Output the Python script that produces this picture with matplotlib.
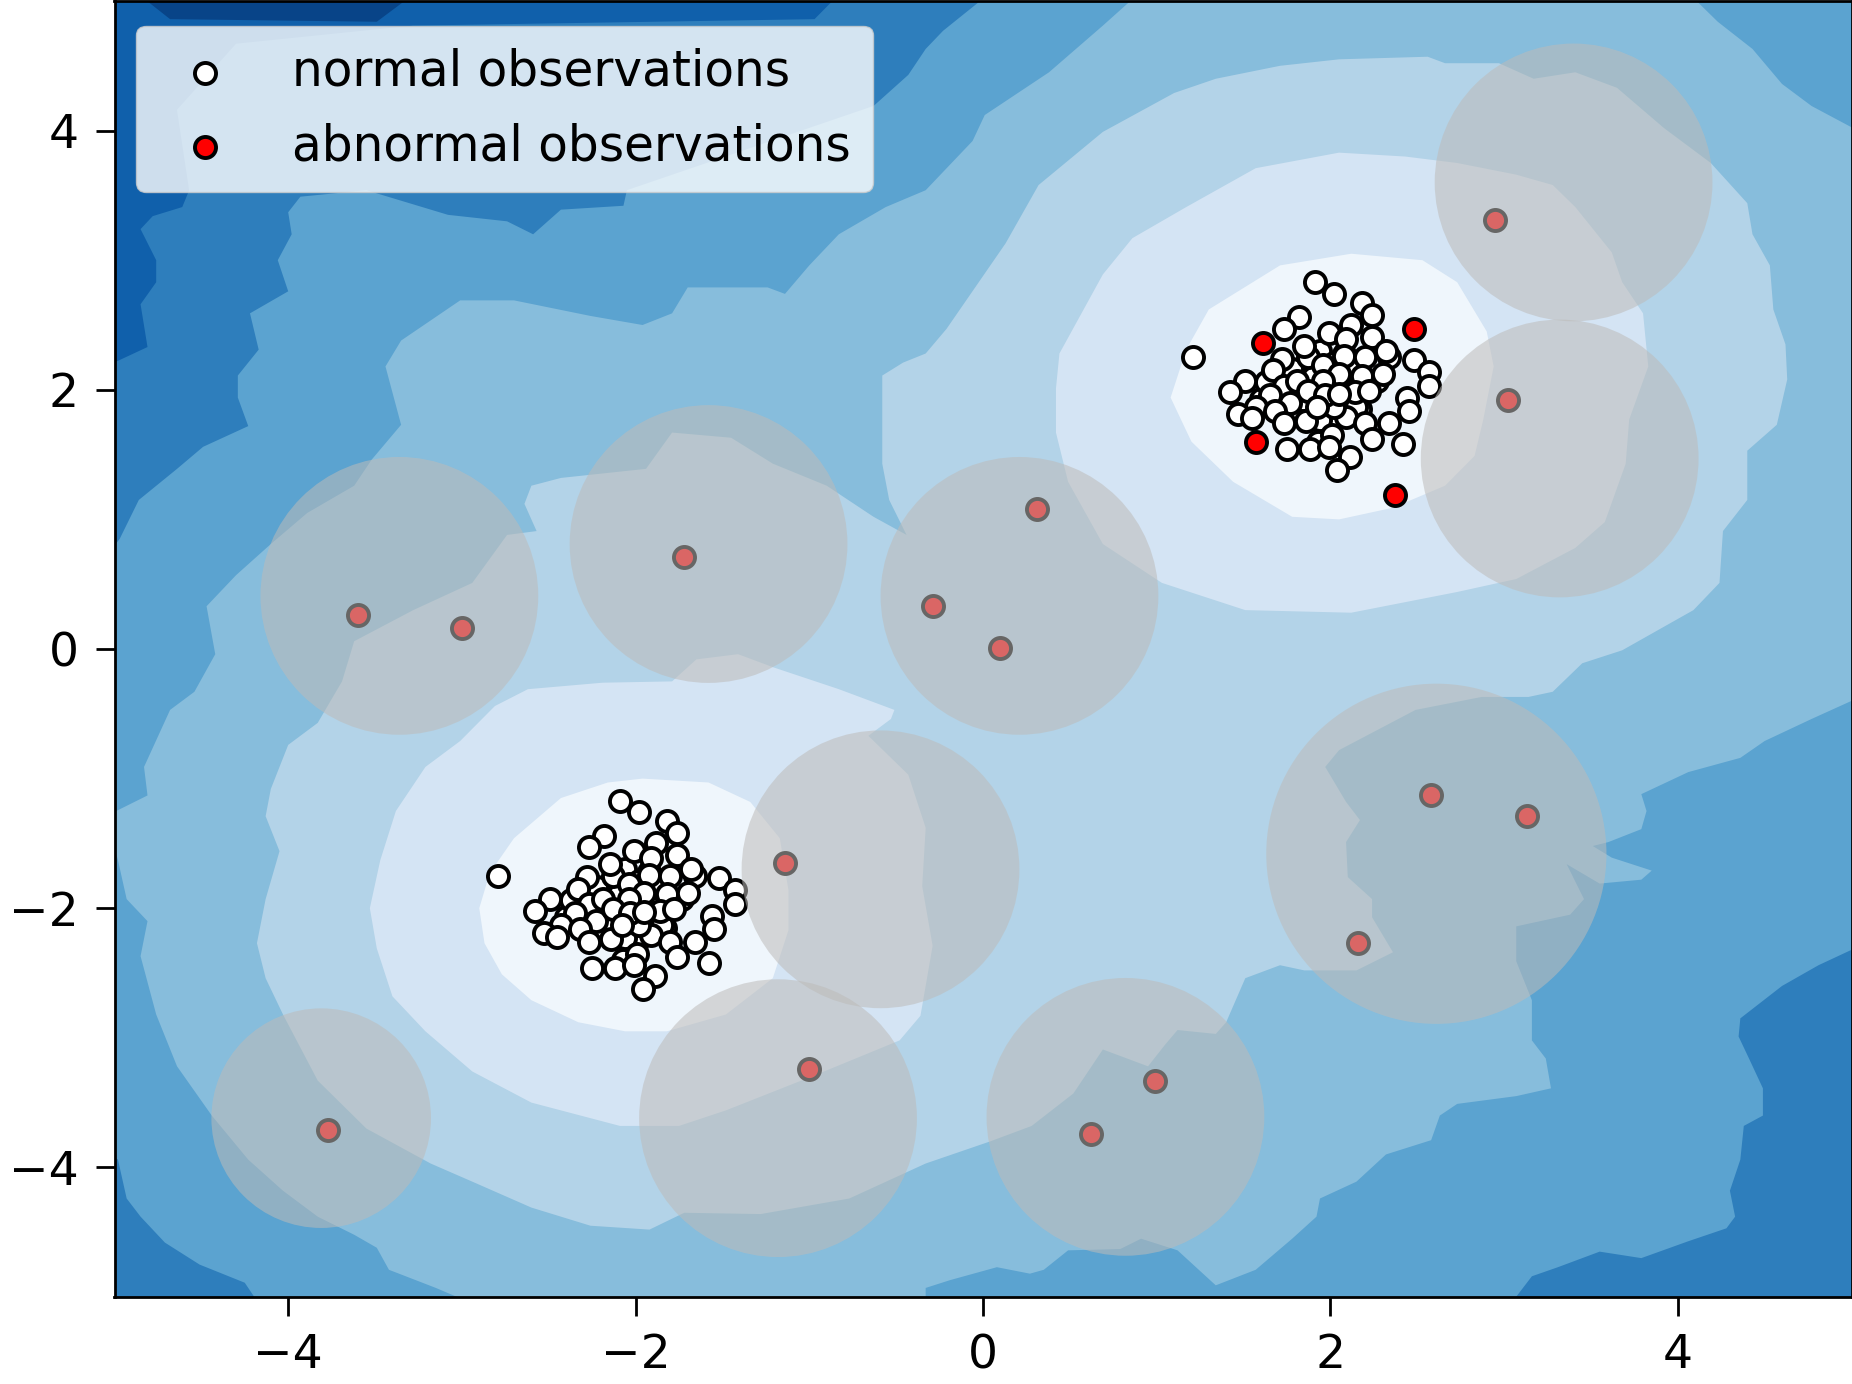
#!/usr/bin/env python3
"""Outlier scores as a stepped blue background, with grey circles round the abnormal points."""
import matplotlib
matplotlib.use("Agg")
import matplotlib.pyplot as plt

# normal observations, upper right cluster
upper_x = [1.88, 1.95, 2.03, 2.10, 1.80, 1.92, 2.00, 2.06, 1.90, 1.97, 2.13, 1.84, 1.70, 2.27, 1.60, 1.78, 2.00, 1.93, 2.17, 2.08,
           1.92, 1.84, 2.01, 2.15, 1.63, 1.94, 2.02, 2.11, 1.78, 2.15, 1.90,
           1.91, 2.02, 2.18, 2.24, 1.82, 1.73, 1.99, 2.12, 2.24, 2.09, 1.21, 1.72, 1.87, 2.08, 1.85, 2.20,
           2.34, 2.48, 2.32, 2.57, 2.57, 1.67, 1.51, 1.42, 1.73, 1.96, 2.05, 2.18, 2.30, 1.81, 1.96, 2.14,
           2.44, 2.45, 1.77, 1.65, 1.57, 1.47, 1.55, 1.68, 1.73, 1.94, 2.09, 2.20, 2.34, 2.02, 1.87, 1.97,
           2.05, 2.22, 2.01, 1.86, 1.75, 1.88, 2.24, 2.42, 2.11, 2.04, 1.99, 1.92]
upper_y = [2.00, 1.90, 1.92, 2.00, 1.98, 2.15, 2.18, 1.83, 1.82, 2.03, 1.93, 2.10, 1.93, 2.07, 1.93, 1.83, 1.72, 1.60, 1.85, 2.28,
           2.05, 1.92, 2.05, 1.87, 2.06, 2.30, 2.21, 2.19, 2.16, 2.17, 2.10,
           2.83, 2.74, 2.67, 2.58, 2.56, 2.47, 2.44, 2.50, 2.41, 2.39, 2.25, 2.24, 2.25, 2.26, 2.34, 2.25,
           2.25, 2.23, 2.30, 2.14, 2.03, 2.15, 2.07, 1.98, 2.03, 2.19, 2.12, 2.11, 2.12, 2.07, 2.07, 1.98,
           1.94, 1.84, 1.90, 1.96, 1.87, 1.81, 1.78, 1.84, 1.74, 1.77, 1.79, 1.74, 1.74, 1.87, 1.99, 1.96,
           1.97, 1.99, 1.65, 1.76, 1.54, 1.54, 1.62, 1.58, 1.48, 1.38, 1.56, 1.87]

# normal observations, lower left cluster
lower_x = [-2.12, -2.05, -1.97, -1.90, -2.20, -2.08, -2.00, -1.94, -2.10, -2.03, -1.87, -2.16, -2.30, -1.73, -2.40, -2.22, -2.00, -2.07, -1.83, -1.92,
           -2.08, -2.16, -1.99, -1.85, -2.37, -2.06, -1.98, -1.89, -2.22, -1.85, -2.10,
           -2.09, -1.98, -1.82, -1.76, -2.18, -2.27, -2.01, -1.88, -1.76, -1.91, -2.79, -2.28, -2.13, -1.92, -2.15, -1.80,
           -1.66, -1.52, -1.68, -1.43, -1.43, -2.33, -2.49, -2.58, -2.27, -2.04, -1.95, -1.82, -1.70, -2.19, -2.04, -1.86,
           -1.56, -1.55, -2.23, -2.35, -2.43, -2.53, -2.45, -2.32, -2.27, -2.06, -1.91, -1.80, -1.66, -1.98, -2.13, -2.03,
           -1.95, -1.78, -1.99, -2.14, -2.25, -2.12, -1.76, -1.58, -1.89, -1.96, -2.01, -2.08]
lower_y = [-2.00, -2.10, -2.08, -2.00, -2.02, -1.85, -1.82, -2.17, -2.18, -1.97, -2.07, -1.90, -2.07, -1.93, -2.07, -2.17, -2.28, -2.40, -2.15, -1.72,
           -1.95, -2.08, -1.95, -2.13, -1.94, -1.70, -1.79, -1.81, -1.84, -1.83, -1.90,
           -1.17, -1.26, -1.33, -1.42, -1.44, -1.53, -1.56, -1.50, -1.59, -1.61, -1.75, -1.76, -1.75, -1.74, -1.66, -1.75,
           -1.75, -1.77, -1.70, -1.86, -1.97, -1.85, -1.93, -2.02, -1.97, -1.81, -1.88, -1.89, -1.88, -1.93, -1.93, -2.02,
           -2.06, -2.16, -2.10, -2.04, -2.13, -2.19, -2.22, -2.16, -2.26, -2.23, -2.21, -2.26, -2.26, -2.13, -2.01, -2.04,
           -2.03, -2.01, -2.35, -2.24, -2.46, -2.46, -2.38, -2.42, -2.52, -2.62, -2.44, -2.13]

# abnormal observations
abnormal_x = [2.95, 2.48, 1.61, 3.02, 1.57, 2.37, 0.31, -0.29, 0.10, -1.72,
              -3.60, -3.00, -1.14, 2.58, 3.13, 2.16, -1.00, 0.99, 0.62, -3.77]
abnormal_y = [3.31, 2.47, 2.36, 1.92, 1.60, 1.19, 1.08, 0.33, 0.01, 0.71,
              0.26, 0.16, -1.65, -1.13, -1.29, -2.27, -3.24, -3.33, -3.74, -3.71]

# grey circles: centre and marker size
circle_x = [-3.36, -1.58, 0.21, -0.59, -1.18, 0.82, 2.61, -3.81, 3.40, 3.32]
circle_y = [0.41, 0.81, 0.41, -1.70, -3.62, -3.61, -1.58, -3.62, 3.60, 1.47]
circle_s = [40000, 40000, 40000, 40000, 40000, 40000, 60000, 25000, 40000, 40000]

# background bands, darkest first
band_top = [(-4.86, 5.05), (-4.68, 4.86), (-3.49, 4.84), (-3.28, 5.05)]

band_1 = [(-5.05, 2.18), (-4.81, 2.33), (-4.85, 2.66), (-4.76, 2.83), (-4.76, 3.00), (-4.85, 3.24),
          (-4.78, 3.34), (-4.61, 3.41), (-4.57, 3.54), (-4.64, 4.16), (-4.30, 4.67), (-3.28, 4.81),
          (-0.97, 4.86), (-0.83, 5.05), (5.05, 5.05), (5.05, -5.05), (-5.05, -5.05)]

band_2 = [(-5.05, 0.71), (-4.97, 0.85), (-4.86, 1.15), (-4.64, 1.39), (-4.49, 1.56), (-4.23, 1.72),
          (-4.29, 1.94), (-4.29, 2.11), (-4.17, 2.31), (-4.22, 2.59), (-4.00, 2.76), (-4.06, 3.00),
          (-3.98, 3.20), (-4.00, 3.37), (-3.93, 3.49), (-3.55, 3.54), (-3.08, 3.35), (-2.74, 3.30),
          (-2.59, 3.20), (-2.43, 3.39), (-2.07, 3.42), (-2.05, 3.54), (-0.63, 4.19), (-0.43, 4.43),
          (-0.33, 4.63), (-0.23, 4.77), (0.03, 5.05), (5.05, 5.05), (5.05, -2.29), (4.81, -2.44),
          (4.60, -2.60), (4.36, -2.85), (4.35, -2.99), (4.41, -3.16), (4.49, -3.39), (4.49, -3.60),
          (4.38, -3.68), (4.36, -3.94), (4.30, -4.18), (4.33, -4.38), (4.28, -4.47), (4.06, -4.57),
          (3.79, -4.70), (3.55, -4.65), (3.31, -4.77), (3.16, -4.84), (3.04, -5.05), (-4.17, -5.05),
          (-4.25, -4.89), (-4.51, -4.75), (-4.71, -4.58), (-4.85, -4.38), (-4.93, -4.24), (-4.98, -3.94),
          (-5.05, -3.87)]

band_3 = [(-5.05, -1.29), (-4.81, -1.13), (-4.83, -0.91), (-4.68, -0.47), (-4.54, -0.33), (-4.42, -0.04),
          (-4.47, 0.33), (-4.30, 0.57), (-4.10, 0.81), (-3.89, 1.05), (-3.62, 1.26), (-3.52, 1.46),
          (-3.35, 1.73), (-3.44, 2.18), (-3.35, 2.38), (-3.01, 2.69), (-2.70, 2.69), (-2.26, 2.57),
          (-1.96, 2.50), (-1.79, 2.59), (-1.70, 2.79), (-1.24, 2.79), (-1.14, 2.74), (-1.00, 2.96),
          (-0.83, 3.20), (-0.56, 3.41), (-0.33, 3.54), (-0.06, 3.92), (0.01, 4.12), (0.38, 4.45),
          (0.69, 4.81), (0.89, 5.05), (4.07, 5.05), (4.23, 4.84), (4.43, 4.63), (4.60, 4.36),
          (4.77, 4.19), (5.05, 3.99), (5.05, -0.37), (4.77, -0.54), (4.50, -0.71), (4.36, -0.84),
          (4.06, -0.95), (3.79, -1.12), (3.82, -1.25), (3.79, -1.39), (3.60, -1.49), (3.51, -1.52),
          (3.62, -1.61), (3.85, -1.71), (3.79, -1.78), (3.55, -1.81), (3.36, -1.66), (3.46, -1.93),
          (3.38, -2.05), (3.07, -2.14), (3.07, -2.41), (3.16, -2.71), (3.16, -3.02), (3.24, -3.16),
          (3.27, -3.39), (3.07, -3.45), (2.73, -3.51), (2.63, -3.60), (2.58, -3.79), (2.32, -3.90),
          (2.15, -4.11), (1.94, -4.24), (1.92, -4.38), (1.78, -4.55), (1.57, -4.79), (1.34, -4.91),
          (1.12, -4.64), (0.91, -4.55), (0.79, -4.63), (0.49, -4.64), (0.35, -4.79), (0.27, -4.82),
          (0.08, -4.77), (-0.19, -4.87), (-0.33, -4.93), (-0.33, -5.05), (-2.94, -5.05), (-3.15, -4.93),
          (-3.42, -4.79), (-3.49, -4.62), (-3.62, -4.52), (-3.83, -4.38), (-4.03, -4.18), (-4.23, -3.94),
          (-4.44, -3.60), (-4.64, -3.22), (-4.76, -2.82), (-4.85, -2.37), (-4.81, -2.10), (-4.93, -1.93),
          (-4.98, -1.63)]

band_4 = [(-4.18, -2.27), (-4.13, -1.93), (-4.05, -1.56), (-4.13, -1.29), (-4.10, -1.08), (-4.00, -0.74),
          (-3.83, -0.57), (-3.69, -0.25), (-3.62, 0.06), (-3.28, 0.30), (-2.94, 0.51), (-2.74, 0.88),
          (-2.57, 0.91), (-2.64, 1.12), (-2.60, 1.26), (-2.43, 1.32), (-1.94, 1.39), (-1.79, 1.67),
          (-1.45, 1.63), (-1.21, 1.43), (-0.90, 1.26), (-0.63, 1.02), (-0.44, 0.88), (-0.54, 1.15),
          (-0.58, 1.43), (-0.58, 2.11), (-0.46, 2.21), (-0.33, 2.28), (-0.21, 2.47), (0.13, 3.13),
          (0.32, 3.58), (0.69, 3.99), (1.10, 4.29), (1.34, 4.40), (1.71, 4.50), (2.05, 4.55),
          (2.56, 4.57), (2.66, 4.52), (2.97, 4.52), (3.17, 4.40), (3.41, 4.45), (3.65, 4.33),
          (3.92, 4.02), (4.19, 3.75), (4.40, 3.44), (4.43, 3.20), (4.53, 2.96), (4.55, 2.62),
          (4.62, 2.35), (4.63, 2.08), (4.57, 1.73), (4.40, 1.53), (4.40, 1.15), (4.26, 0.91),
          (4.24, 0.51), (4.09, 0.30), (3.68, -0.01), (3.45, -0.11), (3.28, -0.33), (3.14, -0.37),
          (2.87, -0.37), (2.49, -0.47), (2.05, -0.78), (1.97, -0.91), (2.09, -1.18), (2.17, -1.32),
          (2.09, -1.49), (2.10, -1.76), (2.24, -1.93), (2.24, -2.07), (2.36, -2.34), (2.15, -2.48),
          (1.85, -2.48), (1.71, -2.44), (1.51, -2.54), (1.40, -2.88), (1.34, -2.97), (1.12, -2.94),
          (1.05, -3.05), (0.95, -3.22), (0.69, -3.09), (0.57, -3.33), (0.52, -3.43), (0.28, -3.68),
          (0.04, -3.80), (-0.33, -3.97), (-0.77, -4.24), (-1.28, -4.36), (-1.72, -4.35), (-1.92, -4.48),
          (-2.26, -4.45), (-2.60, -4.31), (-2.94, -4.11), (-3.18, -3.97), (-3.55, -3.70), (-3.83, -3.33),
          (-4.03, -2.82), (-4.13, -2.54)]

band_5_lower = [(-3.53, -2.00), (-3.47, -1.63), (-3.38, -1.25), (-3.21, -0.91), (-3.01, -0.71), (-2.81, -0.44),
                (-2.62, -0.31), (-2.19, -0.26), (-1.79, -0.25), (-1.65, -0.08), (-1.41, -0.04), (-1.21, -0.14),
                (-0.83, -0.31), (-0.51, -0.47), (-0.53, -0.54), (-0.66, -0.67), (-0.43, -0.97), (-0.33, -1.38),
                (-0.35, -1.83), (-0.29, -2.29), (-0.36, -2.83), (-0.48, -3.02), (-0.97, -3.29), (-1.48, -3.56),
                (-1.75, -3.68), (-2.09, -3.68), (-2.60, -3.50), (-2.94, -3.26), (-3.21, -2.95), (-3.40, -2.68),
                (-3.49, -2.31)]

band_5_upper = [(0.42, 2.01), (0.44, 2.28), (0.69, 2.89), (0.86, 3.17), (1.17, 3.41), (1.57, 3.71),
                (2.05, 3.83), (2.43, 3.80), (2.73, 3.75), (3.07, 3.66), (3.28, 3.58), (3.41, 3.41),
                (3.62, 3.06), (3.68, 2.83), (3.80, 2.59), (3.83, 2.18), (3.72, 1.77), (3.70, 1.43),
                (3.58, 0.98), (3.41, 0.78), (3.07, 0.54), (2.73, 0.44), (2.12, 0.28), (1.51, 0.30),
                (1.03, 0.51), (0.69, 0.81), (0.49, 1.29), (0.42, 1.67)]

band_6_lower = [(-2.90, -2.00), (-2.84, -1.73), (-2.70, -1.46), (-2.43, -1.15), (-2.16, -1.03), (-1.96, -1.00),
                (-1.58, -1.03), (-1.34, -1.18), (-1.17, -1.46), (-1.12, -1.86), (-1.12, -2.17), (-1.21, -2.54),
                (-1.48, -2.82), (-1.82, -2.95), (-2.06, -2.95), (-2.33, -2.88), (-2.60, -2.71), (-2.77, -2.51),
                (-2.87, -2.27)]

band_6_upper = [(1.08, 1.94), (1.17, 2.31), (1.30, 2.62), (1.71, 2.96), (2.12, 3.05), (2.53, 3.00),
                (2.73, 2.83), (2.90, 2.45), (2.94, 2.18), (2.88, 1.77), (2.83, 1.49), (2.66, 1.26),
                (2.36, 1.09), (2.05, 1.00), (1.78, 1.02), (1.44, 1.29), (1.20, 1.60)]

BANDS = [(band_top, "#084488"), (band_1, "#2e7ebc"), (band_2, "#5ba3d0"), (band_3, "#87bddc"),
         (band_4, "#b3d3e8"), (band_5_lower, "#d4e4f4"), (band_5_upper, "#d4e4f4"),
         (band_6_lower, "#eff6fc"), (band_6_upper, "#eff6fc")]

W, H = 1852, 1384
fig = plt.figure(figsize=(W / 100, H / 100), dpi=100)
ax = fig.add_axes([114.5 / W, 1 - 1297 / H, 1737 / W, 1296 / H])
ax.set_facecolor("#1060ab")

for outline, color in BANDS:
    ax.fill([p[0] for p in outline], [p[1] for p in outline], color=color, linewidth=0, zorder=1)

# points, then the see-through circles on top of them
marker = dict(s=230, linewidths=2.8, edgecolors="black", zorder=2)
ax.scatter(upper_x + lower_x, upper_y + lower_y, c="white", label="normal observations", **marker)
ax.scatter(abnormal_x, abnormal_y, c="red", label="abnormal observations", **marker)
ax.scatter(circle_x, circle_y, s=circle_s, c="#bdbbb9", alpha=0.55, linewidths=0, zorder=3)

ax.set_xlim(-5, 5)
ax.set_ylim(-5, 5)
ax.set_xticks([-4, -2, 0, 2, 4])
ax.set_yticks([-4, -2, 0, 2, 4])
ax.tick_params(labelsize=34, length=14, width=2, pad=12)
for spine in ax.spines.values():
    spine.set_linewidth(2)

ax.legend(loc="upper left", bbox_to_anchor=(0.0125, 0.981), borderaxespad=0, fontsize=35,
          borderpad=0.45, handlelength=1.92, handletextpad=0.84, labelspacing=0.55, scatterpoints=1)

fig.savefig("out.png", dpi=100)
